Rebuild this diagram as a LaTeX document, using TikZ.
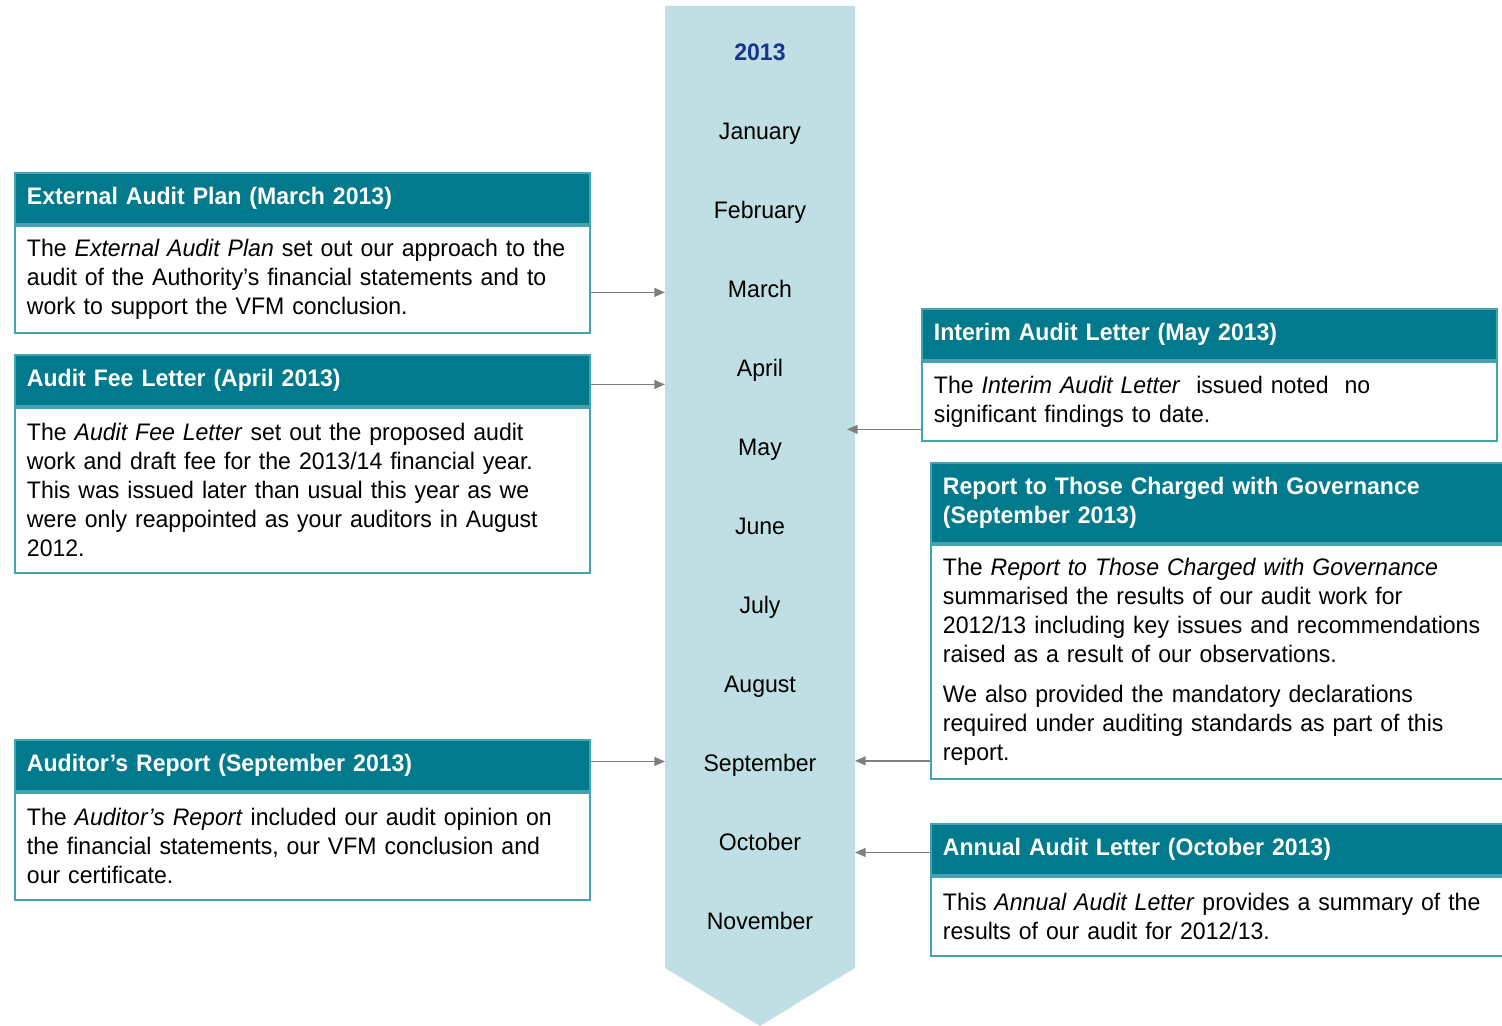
\documentclass[tikz,border=0pt]{standalone}
\usepackage{fontspec}
\setmainfont{Liberation Sans}[FakeStretch=0.965]
\usetikzlibrary{arrows.meta}
\usetikzlibrary{positioning}

\definecolor{bandblue}{HTML}{BFDFE4}
\definecolor{headteal}{HTML}{007A8C}
\definecolor{edgeteal}{HTML}{45A2B1}
\definecolor{yearblue}{HTML}{17358E}
\definecolor{linkgray}{HTML}{7F7F7F}

\begin{document}
\begin{tikzpicture}[x=0.02cm, y=-0.02cm,
    every node/.style={font=\fontsize{13.6pt}{16.5pt}\selectfont},
    head/.style={anchor=north west, fill=headteal, draw=edgeteal, line width=1.1pt,
        text=white, align=left, text width=11.02cm, inner xsep=0.24cm,
        minimum height=1.02cm, font=\fontsize{13.6pt}{16.5pt}\selectfont\bfseries},
    body/.style={anchor=north west, draw=edgeteal, line width=1.1pt, fill=white,
        align=left, text width=11.02cm, inner xsep=0.24cm},
    month/.style={inner sep=0pt, anchor=mid},
    link/.style={draw=linkgray, line width=0.9pt, -{Triangle[length=6pt,width=5pt]}}]

    \useasboundingbox (0,0) rectangle (1502,1026);

    % the timeline band, pointing down
    \fill[bandblue] (665,6) -- (855,6) -- (855,968) -- (760,1026) -- (665,968) -- cycle;
    \coordinate (bandL) at (665,6);
    \coordinate (bandR) at (855,6);

    % year and months
    \node[month, text=yearblue, font=\fontsize{13.6pt}{16.5pt}\selectfont\bfseries] (yr) at (760,56) {2013};
    \foreach \m [count=\i] in {January,February,March,April,May,June,July,August,September,October,November}
        \node[month] (m\i) at (760,{56+79*\i}) {\m};

    % left hand boxes
    \node[head] (hd1) at (14,172) {External Audit Plan (March 2013)};
    \node[body, minimum height=2.14cm] (b1) at (hd1.south west)
        {The \emph{External Audit Plan} set out our approach to the\\
         audit of the Authority’s financial statements and to\\
         work to support the VFM conclusion.};

    \node[head] (hd2) at (14,354) {Audit Fee Letter (April 2013)};
    \node[body, minimum height=3.30cm] (b2) at (hd2.south west)
        {The \emph{Audit Fee Letter} set out the proposed audit\\
         work and draft fee for the 2013/14 financial year.\\
         This was issued later than usual this year as we\\
         were only reappointed as your auditors in August\\
         2012.};

    \node[head] (hd3) at (14,739) {Auditor’s Report (September 2013)};
    \node[body, minimum height=2.14cm] (b3) at (hd3.south west)
        {The \emph{Auditor’s Report} included our audit opinion on\\
         the financial statements, our VFM conclusion and\\
         our certificate.};

    % right hand boxes
    \node[head] (hd4) at (921,308) {Interim Audit Letter (May 2013)};
    \node[body, minimum height=1.58cm] (b4) at (hd4.south west)
        {The \emph{Interim Audit Letter}\ \ issued noted\ \ no\\
         significant findings to date.};

    \node[head, minimum height=1.60cm] (hd5) at (930,462)
        {Report to Those Charged with Governance\\(September 2013)};
    \node[body, minimum height=4.68cm] (b5) at (hd5.south west)
        {The \emph{Report to Those Charged with Governance}\\
         summarised the results of our audit work for\\
         2012/13 including key issues and recommendations\\
         raised as a result of our observations.\\[6pt]
         We also provided the mandatory declarations\\
         required under auditing standards as part of this\\
         report.};

    \node[head] (hd6) at (930,823) {Annual Audit Letter (October 2013)};
    \node[body, minimum height=1.58cm] (b6) at (hd6.south west)
        {This \emph{Annual Audit Letter} provides a summary of the\\
         results of our audit for 2012/13.};

    % connectors into the band
    \draw[link] (b1.east) ++(0,13) coordinate (a1) -- (a1 -| bandL);
    \draw[link] (hd2.east) ++(0,4) coordinate (a2) -- (a2 -| bandL);
    \draw[link] (hd3.east) ++(0,-4) coordinate (a3) -- (a3 -| bandL);
    \draw[link, shorten >=-0.16cm] (b4.west) ++(0,28) coordinate (a4) -- (a4 -| bandR);
    \draw[link] (b5.west) ++(0,99) coordinate (a5) -- (a5 -| bandR);
    \draw[link] (hd6.west) ++(0,3) coordinate (a6) -- (a6 -| bandR);
\end{tikzpicture}
\end{document}
